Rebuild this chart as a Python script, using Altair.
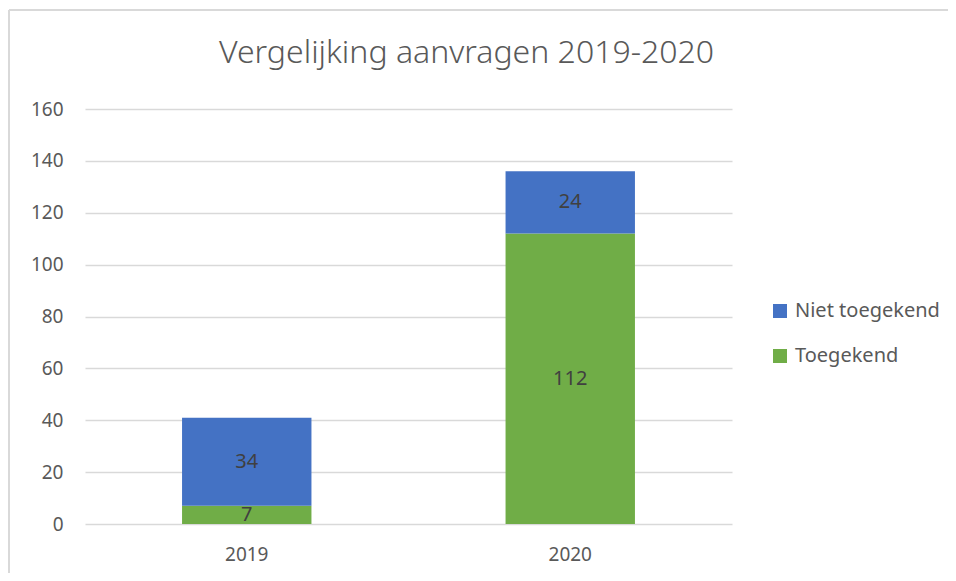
import altair as alt
import pandas as pd

years = ["2019", "2020"]
toegekend = [7, 112]
niet_toegekend = [34, 24]
series = ["Niet toegekend", "Toegekend"]
colors = ["#4472C4", "#70AD47"]

rows = []
for i, y in enumerate(years):
    rows.append({"year": y, "status": "Toegekend", "value": toegekend[i], "order": 0})
    rows.append({"year": y, "status": "Niet toegekend", "value": niet_toegekend[i], "order": 1})
df = pd.DataFrame(rows)

FONT = "Noto Sans"

base = alt.Chart(df).transform_stack(
    stack="value", groupby=["year"], as_=["v0", "v1"],
    sort=[alt.SortField("order", order="ascending")]
).transform_calculate(mid="(datum.v0 + datum.v1) / 2")

x = alt.X("year:N", title=None,
          scale=alt.Scale(paddingInner=0.6, paddingOuter=0.3),
          axis=alt.Axis(labelAngle=0, labelFontSize=19, labelColor="#595959",
                        labelFont=FONT, ticks=False, domain=False, labelPadding=21))

bars = base.mark_bar().encode(
    x=x,
    y=alt.Y("v0:Q", title=None,
            scale=alt.Scale(domain=[0, 160]),
            axis=alt.Axis(values=list(range(0, 161, 20)), labelFontSize=19,
                          labelColor="#595959", labelFont=FONT, ticks=False,
                          domain=False, labelPadding=22, gridColor="#d9d9d9",
                          gridWidth=1.5)),
    y2="v1:Q",
    color=alt.Color("status:N", title=None,
                    scale=alt.Scale(domain=series, range=colors),
                    legend=alt.Legend(orient="none", legendX=685, legendY=192,
                                      symbolType="square", symbolSize=196,
                                      symbolStrokeWidth=0, labelFontSize=20,
                                      labelFont=FONT, labelColor="#595959",
                                      labelOffset=5, rowPadding=25, padding=0)),
)

labels = base.mark_text(fontSize=20, font=FONT, color="#404040").encode(
    x=alt.X("year:N"),
    y=alt.Y("mid:Q"),
    text=alt.Text("value:Q"),
)

border_top = alt.Chart(df).mark_rule(color="#d9d9d9", strokeWidth=1.5).encode(
    x=alt.value(-76), x2=alt.value(900), y=alt.value(-99))
border_left = alt.Chart(df).mark_rule(color="#d9d9d9", strokeWidth=1.5).encode(
    x=alt.value(-76), y=alt.value(-99), y2=alt.value(480))

chart = alt.layer(border_top, border_left, bars, labels).properties(
    width=647, height=415,
    title=alt.TitleParams("Vergelijking aanvragen 2019-2020", font=FONT,
                          fontSize=32, fontWeight=300, color="#595959",
                          anchor="middle", dx=58, offset=-61),
    autosize=alt.AutoSizeParams(type="none"),
    padding={"left": 77, "top": 101, "right": 216, "bottom": 49},
).configure_view(stroke=None)

chart.save("out.html", embed_options={"renderer": "svg", "actions": False})
